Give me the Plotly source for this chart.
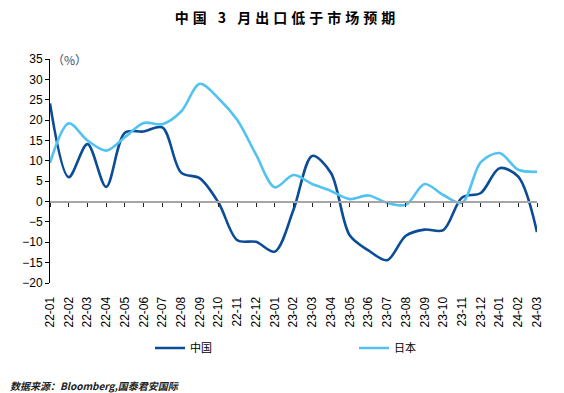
import plotly.graph_objects as go

months = ["22-01","22-02","22-03","22-04","22-05","22-06","22-07","22-08","22-09","22-10",
          "22-11","22-12","23-01","23-02","23-03","23-04","23-05","23-06","23-07","23-08",
          "23-09","23-10","23-11","23-12","24-01","24-02","24-03"]
china = [24.1, 6.0, 14.1, 3.6, 16.9, 17.2, 18.2, 7.1, 5.7, -0.3,
         -9.5, -9.9, -12.3, -2.0, 11.2, 7.0, -8.3, -12.0, -14.4, -8.4,
         -6.9, -7.0, 1.0, 2.1, 8.2, 6.1, -7.5]
japan = [9.5, 19.2, 15.0, 12.5, 15.8, 19.3, 19.0, 22.1, 28.9, 25.3,
         20.0, 11.5, 3.5, 6.5, 4.3, 2.6, 0.6, 1.5, -0.3, -0.8,
         4.3, 1.6, -0.3, 9.7, 11.9, 7.8, 7.3]
yticks = list(range(-20, 40, 5))

DARK = "#0B4C97"
LIGHT = "#52C2F0"
CJK = "Noto Sans CJK SC"
LAT = "Liberation Sans, Arial"

PW, PH = 487.0, 224.0

fig = go.Figure()
fig.add_trace(go.Scatter(x=list(range(len(months))), y=china, name="中国", mode="lines", legend="legend",
                         line=dict(color=DARK, width=2.6, shape="spline", smoothing=0.9)))
fig.add_trace(go.Scatter(x=list(range(len(months))), y=japan, name="日本", mode="lines", legend="legend2",
                         line=dict(color=LIGHT, width=2.6, shape="spline", smoothing=0.9)))

leg_common = dict(orientation="h", xref="paper", yref="paper", xanchor="left",
                  yanchor="middle", y=-(348 - 283) / PH, itemwidth=30,
                  font=dict(family=CJK, size=11, color="black"), bgcolor="rgba(0,0,0,0)",
                  borderwidth=0)

fig.update_layout(
    width=564, height=393,
    margin=dict(l=50, r=27, t=59, b=110, pad=0, autoexpand=False),
    paper_bgcolor="white", plot_bgcolor="white",
    font=dict(family=LAT, size=12, color="black"),
    title=dict(text='<b><span style="letter-spacing:4px">中国 3 月出口低于市场预期</span></b>',
               x=287/564, xref="container", xanchor="center", y=1 - 18/393, yref="container",
               yanchor="middle", font=dict(family=CJK, size=14, color="black")),
    xaxis=dict(range=[0, 26], tickmode="array", tickvals=list(range(len(months))), ticktext=months,
               tickangle=-90, tickfont=dict(family=LAT, size=12, color="black"),
               showline=False, showgrid=False, zeroline=False, automargin=False,
               ticks="outside", ticklen=8, tickcolor="rgba(0,0,0,0)"),
    xaxis2=dict(range=[0, 26], overlaying="x", anchor="free", position=20/55, side="bottom",
                tickmode="linear", tick0=0, dtick=1, ticks="outside", ticklen=4, tickwidth=1,
                tickcolor="#222222", showticklabels=False, showline=True, linecolor="#A6A6A6",
                linewidth=2, showgrid=False, zeroline=False, automargin=False),
    yaxis=dict(range=[-20, 35], tickmode="array", tickvals=yticks, showgrid=False, zeroline=False,
               showline=True, linecolor="black", linewidth=1, ticks="outside", ticklen=4,
               tickcolor="black", tickfont=dict(family=LAT, size=12, color="black"),
               automargin=False),
    legend=dict(x=(150 - 50) / PW, **leg_common),
    legend2=dict(x=(354 - 50) / PW, **leg_common),
    showlegend=True,
)

# invisible trace to activate xaxis2 ticks
fig.add_trace(go.Scatter(x=[0, 26], y=[None, None], xaxis="x2", yaxis="y", showlegend=False,
                         hoverinfo="skip", mode="lines"))

fig.add_annotation(text="（%）", xref="paper", yref="paper", x=0.0, y=1.0, xanchor="left",
                   yanchor="middle", showarrow=False,
                   font=dict(family=CJK, size=12, color="#3C4B6B"))
fig.add_annotation(text="<i><b>数据来源：Bloomberg,国泰君安国际</b></i>", xref="paper", yref="paper",
                   x=-42/PW, y=-102/PH, xanchor="left", yanchor="middle", showarrow=False,
                   font=dict(family=CJK, size=10, color="#222222"))

fig.write_html("out.html", config={"displayModeBar": False},
               post_script="document.body.style.margin='0';document.body.style.overflow='hidden';")
